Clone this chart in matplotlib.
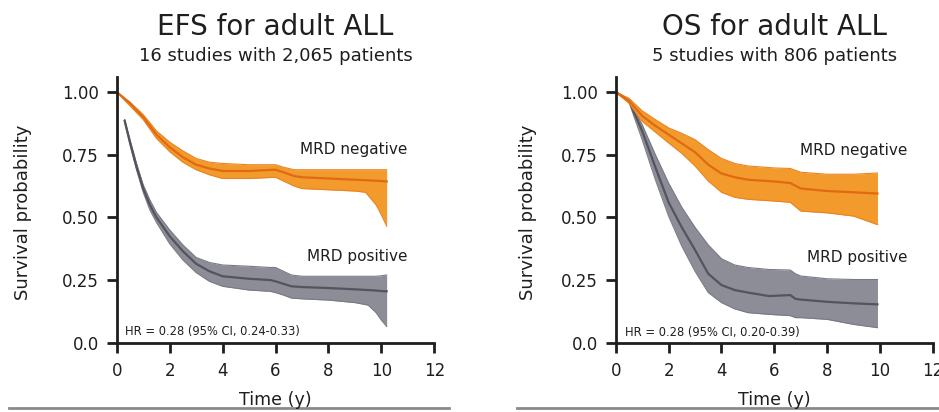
import numpy as np
import matplotlib
matplotlib.use("Agg")
import matplotlib.pyplot as plt
from matplotlib.lines import Line2D

plt.rcParams['font.family'] = ['DejaVu Sans']

# ---- data ----
efs_neg_t   = [0, 0.5, 1.0, 1.5, 2.0, 2.5, 3.0, 3.5, 4.0, 5.0, 6.0, 6.3, 6.7, 7.0, 8.0, 9.0, 9.4, 9.8, 10.0, 10.2]
efs_neg_mid = [1.0, 0.955, 0.90, 0.83, 0.78, 0.74, 0.71, 0.695, 0.685, 0.685, 0.69, 0.68, 0.665, 0.66, 0.655, 0.65, 0.648, 0.646, 0.645, 0.643]
efs_neg_hi  = [1.0, 0.96, 0.91, 0.845, 0.80, 0.765, 0.735, 0.72, 0.715, 0.71, 0.71, 0.70, 0.69, 0.69, 0.69, 0.69, 0.69, 0.69, 0.69, 0.69]
efs_neg_lo  = [1.0, 0.945, 0.89, 0.815, 0.762, 0.72, 0.69, 0.67, 0.655, 0.655, 0.66, 0.645, 0.625, 0.615, 0.61, 0.605, 0.60, 0.55, 0.51, 0.465]

efs_pos_t   = [0.3, 0.5, 0.75, 1.0, 1.25, 1.5, 2.0, 2.5, 3.0, 3.5, 4.0, 5.0, 5.8, 6.0, 6.3, 6.6, 7.0, 8.0, 9.0, 9.5, 9.8, 10.0, 10.2]
efs_pos_mid = [0.885, 0.80, 0.70, 0.615, 0.55, 0.50, 0.425, 0.365, 0.315, 0.285, 0.265, 0.255, 0.25, 0.245, 0.235, 0.225, 0.222, 0.218, 0.213, 0.21, 0.208, 0.206, 0.205]
efs_pos_hi  = [0.89, 0.81, 0.715, 0.63, 0.57, 0.52, 0.45, 0.39, 0.34, 0.32, 0.31, 0.305, 0.30, 0.30, 0.285, 0.27, 0.265, 0.265, 0.265, 0.265, 0.265, 0.267, 0.27]
efs_pos_lo  = [0.88, 0.79, 0.69, 0.60, 0.53, 0.48, 0.395, 0.33, 0.28, 0.245, 0.225, 0.21, 0.205, 0.20, 0.19, 0.178, 0.175, 0.17, 0.16, 0.15, 0.12, 0.09, 0.065]

os_neg_t   = [0, 0.5, 1.0, 1.5, 2.0, 2.5, 3.0, 3.5, 4.0, 4.5, 5.0, 6.0, 6.6, 7.0, 8.0, 9.0, 9.9]
os_neg_mid = [1.0, 0.965, 0.905, 0.865, 0.83, 0.795, 0.76, 0.71, 0.675, 0.66, 0.65, 0.643, 0.637, 0.615, 0.605, 0.60, 0.595]
os_neg_hi  = [1.0, 0.975, 0.925, 0.89, 0.857, 0.835, 0.81, 0.77, 0.735, 0.715, 0.705, 0.697, 0.695, 0.68, 0.672, 0.672, 0.677]
os_neg_lo  = [1.0, 0.955, 0.883, 0.84, 0.797, 0.755, 0.705, 0.645, 0.60, 0.58, 0.572, 0.565, 0.56, 0.525, 0.518, 0.505, 0.471]

os_pos_t   = [0, 0.5, 1.0, 1.5, 2.0, 2.5, 3.0, 3.5, 4.0, 4.5, 5.0, 5.8, 6.6, 6.8, 7.0, 8.0, 9.0, 9.9]
os_pos_mid = [1.0, 0.965, 0.845, 0.70, 0.56, 0.46, 0.37, 0.275, 0.23, 0.21, 0.20, 0.186, 0.19, 0.175, 0.172, 0.163, 0.157, 0.153]
os_pos_hi  = [1.0, 0.97, 0.87, 0.75, 0.637, 0.54, 0.46, 0.39, 0.335, 0.31, 0.30, 0.292, 0.29, 0.275, 0.266, 0.255, 0.252, 0.252]
os_pos_lo  = [1.0, 0.96, 0.81, 0.65, 0.505, 0.385, 0.285, 0.20, 0.16, 0.135, 0.12, 0.113, 0.108, 0.10, 0.10, 0.093, 0.073, 0.06]

x_ticks = [0, 2, 4, 6, 8, 10, 12]
y_ticks = [0, 0.25, 0.5, 0.75, 1.0]
y_ticklabels = ['0.0', '0.25', '0.50', '0.75', '1.00']

titles = ["EFS for adult ALL", "OS for adult ALL"]
subtitles = ["16 studies with 2,065 patients", "5 studies with 806 patients"]
hr_texts = ["HR = 0.28 (95% CI, 0.24-0.33)", "HR = 0.28 (95% CI, 0.20-0.39)"]

ORANGE_FILL = '#F39A2C'
ORANGE_LINE = '#E06A12'
ORANGE_EDGE = '#EA8420'
GRAY_FILL = '#8D8D98'
GRAY_LINE = '#54545E'
GRAY_EDGE = '#7A7A86'
DARK = '#1E1E1E'

fig = plt.figure(figsize=(9.39, 4.12), dpi=100)
ax1 = fig.add_axes([0.1243, 0.1682, 0.3382, 0.645])
ax2 = fig.add_axes([0.6557, 0.1682, 0.3379, 0.645])

panels = [
    (ax1, (efs_neg_t, efs_neg_mid, efs_neg_lo, efs_neg_hi), (efs_pos_t, efs_pos_mid, efs_pos_lo, efs_pos_hi)),
    (ax2, (os_neg_t, os_neg_mid, os_neg_lo, os_neg_hi), (os_pos_t, os_pos_mid, os_pos_lo, os_pos_hi)),
]

for i, (ax, neg, pos) in enumerate(panels):
    # positive (gray)
    t, m, lo, hi = pos
    ax.fill_between(t, lo, hi, color=GRAY_FILL, lw=0, zorder=2)
    ax.plot(t, lo, color=GRAY_EDGE, lw=0.8, zorder=2)
    ax.plot(t, hi, color=GRAY_EDGE, lw=0.8, zorder=2)
    ax.plot(t, m, color=GRAY_LINE, lw=1.6, zorder=3)
    # negative (orange)
    t, m, lo, hi = neg
    ax.fill_between(t, lo, hi, color=ORANGE_FILL, lw=0, zorder=4)
    ax.plot(t, lo, color=ORANGE_EDGE, lw=0.8, zorder=4)
    ax.plot(t, hi, color=ORANGE_EDGE, lw=0.8, zorder=4)
    ax.plot(t, m, color=ORANGE_LINE, lw=1.6, zorder=5)

    ax.set_xlim(0, 12)
    ax.set_ylim(0, 1.06)
    ax.set_xticks(x_ticks)
    ax.set_xticklabels([str(v) for v in x_ticks])
    ax.set_yticks(y_ticks)
    ax.set_yticklabels(y_ticklabels)
    for s in ['top', 'right']:
        ax.spines[s].set_visible(False)
    for s in ['left', 'bottom']:
        ax.spines[s].set_linewidth(2.0)
        ax.spines[s].set_color(DARK)
        ax.spines[s].set_zorder(6)
    ax.tick_params(axis='both', length=7, width=2.0, color=DARK,
                   labelsize=12, labelcolor=DARK, pad=6)
    ax.tick_params(axis='x', pad=7)
    ax.set_facecolor('none')

    ax.text(0.97 if i == 0 else 1.01, 0.0, '', transform=ax.transAxes)

# labels in panels
ax1.text(10.97, 0.77, "MRD negative", ha='right', va='center', fontsize=11, color=DARK)
ax1.text(10.97, 0.343, "MRD positive", ha='right', va='center', fontsize=11, color=DARK)
ax2.text(11.02, 0.767, "MRD negative", ha='right', va='center', fontsize=11, color=DARK)
ax2.text(11.02, 0.339, "MRD positive", ha='right', va='center', fontsize=11, color=DARK)
ax1.text(0.31, 0.044, hr_texts[0], ha='left', va='center', fontsize=8.3, color=DARK)
ax2.text(0.35, 0.04, hr_texts[1], ha='left', va='center', fontsize=8.3, color=DARK)

# titles, subtitles, axis labels
for ax, ttl, sub, ylx in [(ax1, titles[0], subtitles[0], 0.0245), (ax2, titles[1], subtitles[1], 0.5625)]:
    pos = ax.get_position()
    cx = pos.x0 + pos.width / 2
    fig.text(cx, 0.915, ttl, ha='center', va='baseline', fontsize=20, color=DARK)
    fig.text(cx, 0.852, sub, ha='center', va='baseline', fontsize=13, color=DARK)
    fig.text(cx, 0.029, "Time (y)", ha='center', va='center', fontsize=12.6, color=DARK)
    fig.text(ylx, 0.485, "Survival probability", ha='center', va='center',
             rotation=90, fontsize=13, color=DARK)

# bottom separator lines
fig.add_artist(Line2D([0.01, 0.478], [0.01, 0.01], transform=fig.transFigure, color='#8a8a8a', lw=2))
fig.add_artist(Line2D([0.551, 1.0], [0.01, 0.01], transform=fig.transFigure, color='#8a8a8a', lw=2))

fig.savefig("out.png", dpi=100)
